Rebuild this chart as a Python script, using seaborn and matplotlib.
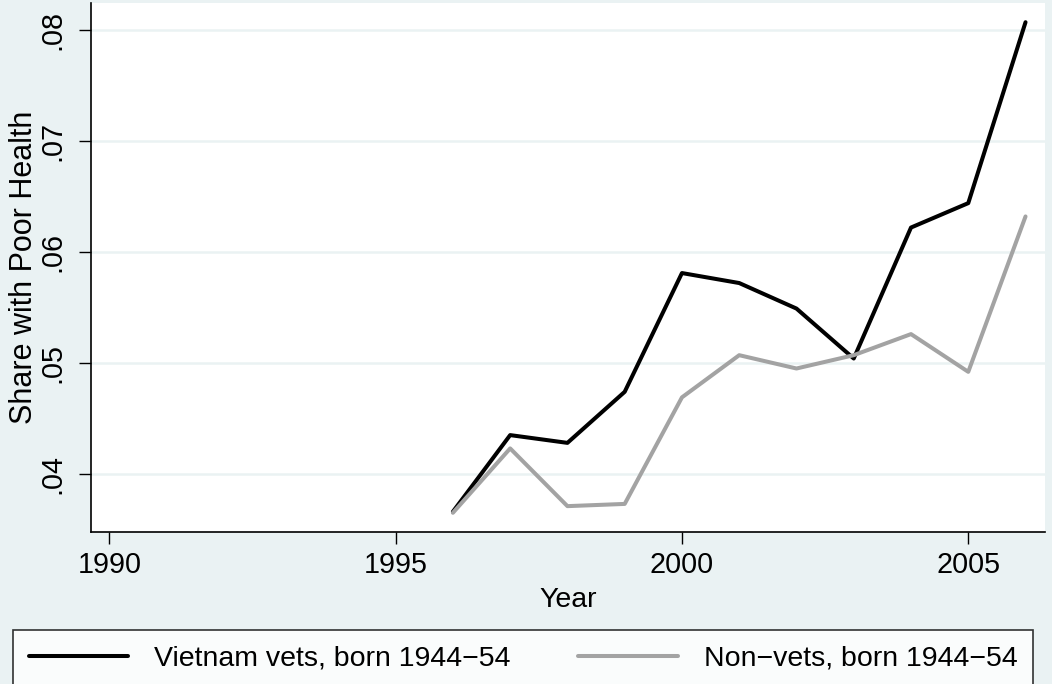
import numpy as np
import pandas as pd
import matplotlib
matplotlib.use('Agg')
import matplotlib.pyplot as plt
import seaborn as sns

years = [1996, 1997, 1998, 1999, 2000, 2001, 2002, 2003, 2004, 2005, 2006]
vets = [0.0366, 0.0435, 0.0428, 0.0474, 0.0581, 0.0572, 0.0549, 0.0504, 0.0622, 0.0644, 0.0807]
nonvets = [0.0365, 0.0423, 0.0371, 0.0373, 0.0469, 0.0507, 0.0495, 0.0507, 0.0526, 0.0492, 0.0632]
labels = ['Vietnam vets, born 1944\u221254', 'Non\u2212vets, born 1944\u221254']
xticks = [1990, 1995, 2000, 2005]
yticks = [0.04, 0.05, 0.06, 0.07, 0.08]
ytick_labels = ['.04', '.05', '.06', '.07', '.08']

bg = '#eaf2f3'
sns.set_style('white')
plt.rcParams['font.family'] = ['Liberation Sans', 'DejaVu Sans']
plt.rcParams['text.color'] = 'black'
plt.rcParams['axes.labelcolor'] = 'black'

df = pd.DataFrame({
    'Year': years * 2,
    'share': vets + nonvets,
    'group': [labels[0]] * len(years) + [labels[1]] * len(years),
})

fig = plt.figure(figsize=(10.52, 6.84), dpi=100, facecolor=bg)
ax = fig.add_axes([91 / 1052, 1 - 532 / 684, (1045 - 91) / 1052, (532 - 3) / 684])
ax.set_facecolor('white')

sns.lineplot(data=df, x='Year', y='share', hue='group', hue_order=labels,
             palette=['black', '#a3a3a3'], linewidth=2.9, ax=ax, legend=False)

ax.set_xlim(1989.68, 2006.34)
ax.set_ylim(0.03477, 0.08243)
ax.set_xticks(xticks)
ax.set_yticks(yticks)
ax.set_yticklabels(ytick_labels, rotation=90, va='center')
ax.tick_params(axis='both', direction='out', length=8.5, width=1, color='black',
               labelsize=20.7, labelcolor='black', left=True, bottom=True)
ax.tick_params(axis='y', pad=9)
ax.tick_params(axis='x', pad=5)
ax.grid(axis='y', color=bg, linewidth=1.8)
ax.grid(axis='x', visible=False)
for s in ['top', 'right']:
    ax.spines[s].set_visible(False)
for s in ['left', 'bottom']:
    ax.spines[s].set_color('black')
    ax.spines[s].set_linewidth(1.2)

ax.set_xlabel('Year', fontsize=20.5, labelpad=6, color='black')
ax.set_ylabel('Share with Poor Health', fontsize=22, labelpad=0, color='black')

handles = ax.get_lines()[:2]
leg = fig.legend(handles, labels, loc='upper left', ncol=2, mode='expand',
                 bbox_to_anchor=(13 / 1052, 0, (1033 - 13) / 1052, 1 - 630 / 684),
                 fontsize=20.5, frameon=True, fancybox=False, edgecolor='black',
                 handlelength=3.5, handletextpad=0.9, borderpad=0.55,
                 borderaxespad=0, labelcolor='black')
leg.get_frame().set_linewidth(1.2)
leg.get_frame().set_facecolor('white')

fig.savefig('out.png', dpi=100, facecolor=bg)
